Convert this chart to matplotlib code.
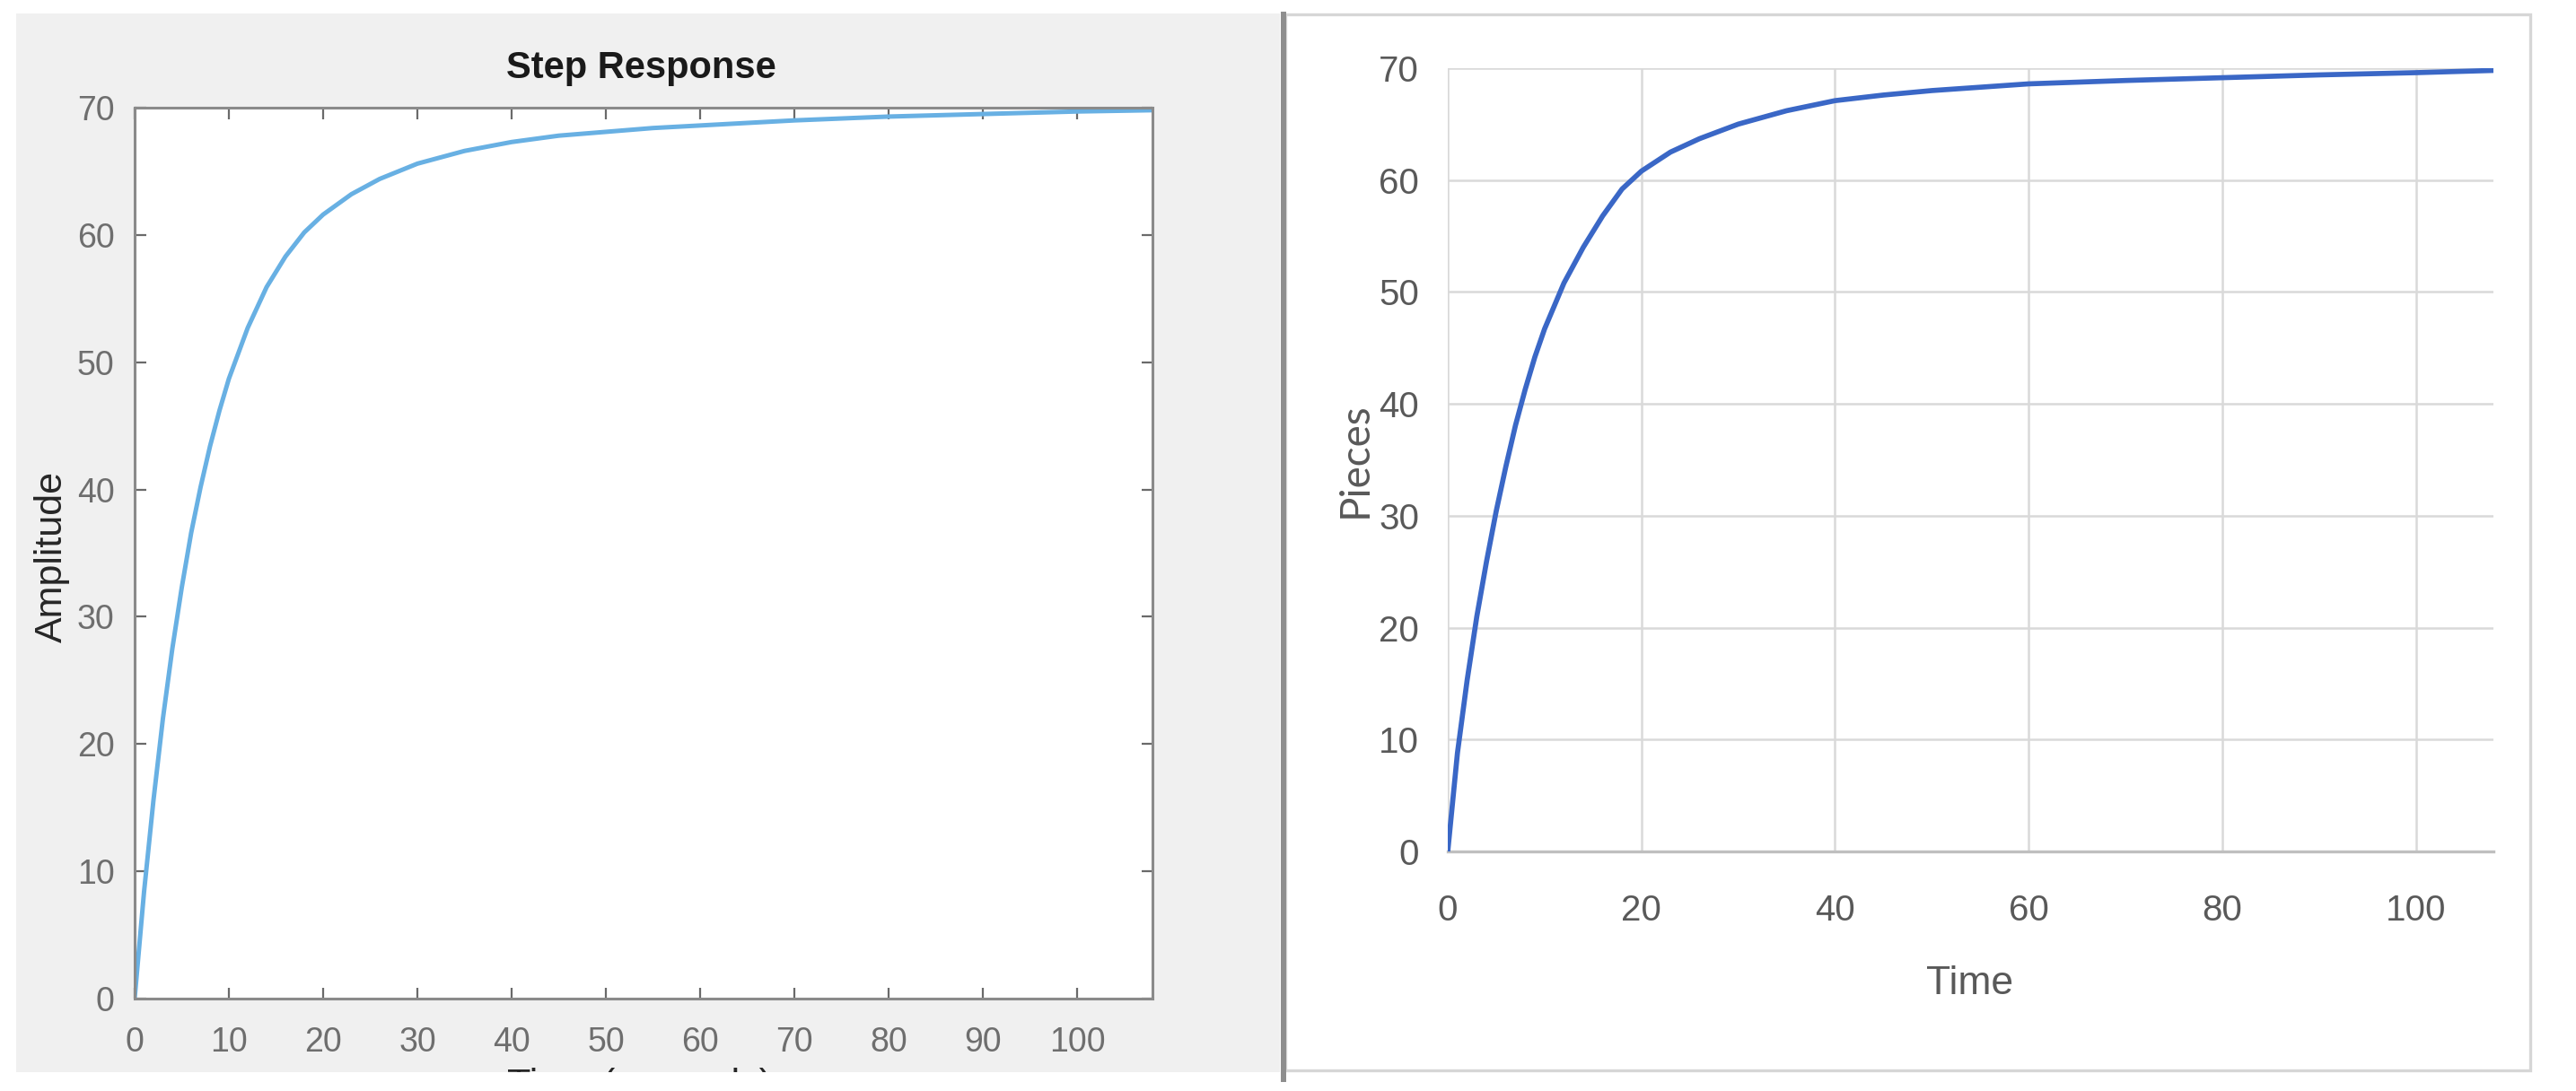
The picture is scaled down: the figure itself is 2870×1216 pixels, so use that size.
import matplotlib
matplotlib.use("Agg")
import matplotlib.pyplot as plt
from matplotlib.patches import Rectangle
from matplotlib.lines import Line2D

# ---------------- data ----------------
matlab_t = [0, 1, 2, 3, 4, 5, 6, 7, 8, 9, 10, 12, 14, 16, 18, 20, 23, 26, 30,
            35, 40, 45, 50, 55, 60, 70, 80, 90, 100, 108]
matlab_y = [0, 8.4, 15.6, 22.0, 27.5, 32.3, 36.6, 40.2, 43.4, 46.2, 48.7, 52.7,
            55.9, 58.3, 60.2, 61.6, 63.2, 64.4, 65.6, 66.6, 67.3, 67.8, 68.1,
            68.4, 68.6, 69.0, 69.3, 69.5, 69.7, 69.8]

excel_t = [0, 1, 2, 3, 4, 5, 6, 7, 8, 9, 10, 12, 14, 16, 18, 20, 23, 26, 30,
           35, 40, 45, 50, 55, 60, 70, 80, 90, 100, 108]
excel_y = [0, 8.8, 15.3, 21.0, 25.9, 30.4, 34.4, 38.1, 41.3, 44.2, 46.7, 50.8,
           54.0, 56.8, 59.2, 60.8, 62.5, 63.7, 65.0, 66.2, 67.1, 67.6, 68.0,
           68.3, 68.6, 68.9, 69.15, 69.4, 69.6, 69.8]

matlab_xticks = [0, 10, 20, 30, 40, 50, 60, 70, 80, 90, 100]
matlab_yticks = [0, 10, 20, 30, 40, 50, 60, 70]
excel_xticks = [0, 20, 40, 60, 80, 100]
excel_yticks = [0, 10, 20, 30, 40, 50, 60, 70]

title_left = "Step Response"
ylabel_left = "Amplitude"
xlabel_left = "Time (seconds)"
ylabel_right = "Pieces"
xlabel_right = "Time"

# ---------------- figure ----------------
W, H = 2870, 1216
fig = plt.figure(figsize=(W / 100, H / 100), dpi=100)
fig.patch.set_facecolor("white")

SANS = ["Liberation Sans", "DejaVu Sans"]


def fx(px):
    return px / W


def fy(py):
    return 1 - py / H


# left grey panel (MATLAB figure background)
fig.patches.append(Rectangle((fx(18), fy(1195)), fx(1426) - fx(18), fy(15) - fy(1195),
                             transform=fig.transFigure, facecolor="#F0F0F0",
                             edgecolor="none", zorder=-2))
# right panel border (Excel chart area)
fig.patches.append(Rectangle((fx(1432), fy(1193)), fx(2819) - fx(1432), fy(16) - fy(1193),
                             transform=fig.transFigure, facecolor="white",
                             edgecolor="#D6D6D6", linewidth=2.4, zorder=-2))
# divider line
fig.lines.append(Line2D([fx(1430), fx(1430)], [fy(1203), fy(16)],
                        transform=fig.transFigure, color="#8E8E8E",
                        linewidth=4.3, zorder=-1))

# ---------------- left: MATLAB step response ----------------
axL = fig.add_axes([fx(150), fy(1113), fx(1284) - fx(150), fy(120) - fy(1113)])
axL.set_facecolor("white")
axL.plot(matlab_t, matlab_y, color="#68B0E3", linewidth=3.6,
         solid_capstyle="round", solid_joinstyle="round")
axL.set_xlim(0, 108)
axL.set_ylim(0, 70)
axL.set_xticks(matlab_xticks)
axL.set_yticks(matlab_yticks)
for s in axL.spines.values():
    s.set_color("#8A8A8A")
    s.set_linewidth(2.2)
axL.tick_params(direction="in", top=True, right=True, length=9, width=1.6,
                color="#6A6A6A", labelsize=27, labelcolor="#6E6E6E")
axL.tick_params(axis="x", pad=22)
axL.tick_params(axis="y", pad=16)
for lab in axL.get_xticklabels() + axL.get_yticklabels():
    lab.set_family(SANS)

fig.text(fx(714), fy(76), title_left, ha="center", va="center", fontsize=30,
         fontweight="bold", family=SANS, color="#1A1A1A")
fig.text(fx(58), fy(620), ylabel_left, ha="center", va="center", rotation=90,
         fontsize=31, family=SANS, color="#262626")
fig.text(fx(712), fy(1190), xlabel_left, ha="center", va="top", fontsize=31,
         family=SANS, color="#262626")
# bottom of the screenshot is cut off
fig.patches.append(Rectangle((0, 0), fx(1426), fy(1195), transform=fig.transFigure,
                             facecolor="white", edgecolor="none", zorder=20))

# ---------------- right: Excel chart ----------------
axR = fig.add_axes([fx(1613), fy(949), fx(2778) - fx(1613), fy(76) - fy(949)])
axR.set_facecolor("white")
axR.plot(excel_t, excel_y, color="#3A67C6", linewidth=4.1,
         solid_capstyle="round", solid_joinstyle="round", zorder=3)
axR.set_xlim(0, 108)
axR.set_ylim(0, 70)
axR.set_xticks(excel_xticks)
axR.set_yticks(excel_yticks)
axR.grid(True, color="#D9D9D9", linewidth=1.8)
axR.set_axisbelow(True)
for k, s in axR.spines.items():
    s.set_visible(k == "bottom")
axR.spines["bottom"].set_color("#BFBFBF")
axR.spines["bottom"].set_linewidth(2.4)
axR.spines["bottom"].set_zorder(2.5)
axR.tick_params(length=0, labelsize=29, labelcolor="#595959")
axR.tick_params(axis="x", pad=34)
axR.tick_params(axis="y", pad=23)
for lab in axR.get_xticklabels() + axR.get_yticklabels():
    lab.set_family(SANS)

fig.text(fx(1510), fy(513), ylabel_right, ha="center", va="center", rotation=90,
         fontsize=33, family=["Lato", "DejaVu Sans"], color="#595959")
fig.text(fx(2195), fy(1096), xlabel_right, ha="center", va="center", fontsize=32,
         family=SANS, color="#595959")

fig.savefig("out.png", dpi=100, facecolor="white")
